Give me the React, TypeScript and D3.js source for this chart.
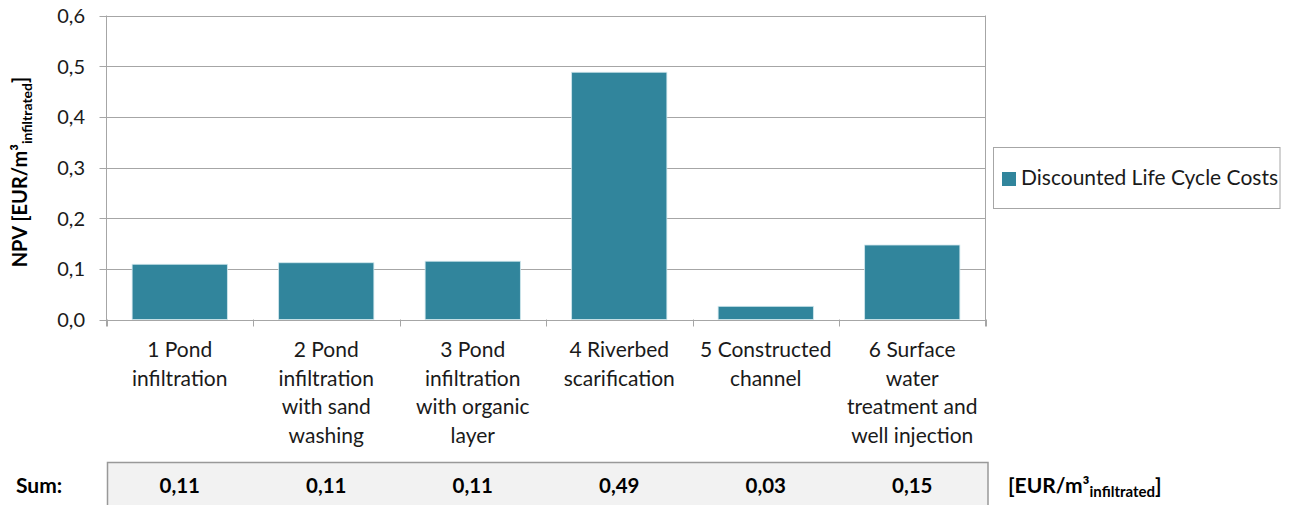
import React from "react";
import * as d3 from "d3";

const categoryLines: string[][] = [
  ["1 Pond", "infiltration"],
  ["2 Pond", "infiltration", "with sand", "washing"],
  ["3 Pond", "infiltration", "with organic", "layer"],
  ["4 Riverbed", "scarification"],
  ["5 Constructed", "channel"],
  ["6 Surface", "water", "treatment and", "well injection"],
];
const costValues: number[] = [0.109, 0.112, 0.115, 0.488, 0.026, 0.147];
const sumLabels: string[] = ["0,11", "0,11", "0,11", "0,49", "0,03", "0,15"];
const yTicks: number[] = [0, 0.1, 0.2, 0.3, 0.4, 0.5, 0.6];
const seriesName = "Discounted Life Cycle Costs";

const W = 1291;
const H = 505;
const plotLeft = 106.5;
const plotRight = 985.5;
const plotTop = 15.5;
const plotBottom = 319.5;
const FONT = "Lato, 'Noto Sans', sans-serif";
const BAR = "#31859c";
const GRID = "#a6a6a6";

export default function App() {
  const x = d3
    .scaleBand<number>()
    .domain(d3.range(categoryLines.length))
    .range([plotLeft, plotRight])
    .paddingInner(0.35)
    .paddingOuter(0.175);
  const step = (plotRight - plotLeft) / categoryLines.length;
  const y = d3.scaleLinear().domain([0, 0.6]).range([plotBottom, plotTop]);
  const fmt = (v: number) => d3.format(".1f")(v).replace(".", ",");
  const center = (i: number) => (x(i) as number) + x.bandwidth() / 2;

  return (
    <svg
      width={W}
      height={H}
      style={{ position: "absolute", left: 0, top: 0, display: "block", background: "#fff" }}
      fontFamily={FONT}
    >
      {/* gridlines + y ticks */}
      {yTicks.map((t) => (
        <g key={t}>
          <line x1={plotLeft - 7} x2={plotRight} y1={Math.round(y(t)) + 0.5} y2={Math.round(y(t)) + 0.5} stroke={GRID} strokeWidth={1} />
          <text x={85} y={y(t) + 7.5} textAnchor="end" fontSize={20} fill="#1a1a1a">
            {fmt(t)}
          </text>
        </g>
      ))}
      {/* right border */}
      <line x1={plotRight} x2={plotRight} y1={plotTop} y2={plotBottom + 7} stroke={GRID} />
      {/* left axis */}
      <line x1={plotLeft} x2={plotLeft} y1={plotTop} y2={plotBottom + 7} stroke={GRID} />
      {/* category ticks */}
      {d3.range(categoryLines.length + 1).map((i) => (
        <line
          key={i}
          x1={Math.round(plotLeft + i * step) + 0.5}
          x2={Math.round(plotLeft + i * step) + 0.5}
          y1={plotBottom}
          y2={plotBottom + 7}
          stroke={GRID}
        />
      ))}
      {/* bars */}
      {costValues.map((v, i) => (
        <rect
          key={i}
          x={x(i)}
          y={y(v)}
          width={x.bandwidth()}
          height={y(0) - y(v)}
          fill={BAR}
          stroke="#cfe6ec"
          strokeWidth={0.8}
        />
      ))}
      {/* x labels */}
      {categoryLines.map((lines, i) => (
        <text key={i} textAnchor="middle" fontSize={21} fill="#1a1a1a">
          {lines.map((l, j) => (
            <tspan key={j} x={center(i)} y={357 + j * 28.5}>
              {l}
            </tspan>
          ))}
        </text>
      ))}
      {/* y axis title */}
      <text
        transform={`translate(27,172) rotate(-90)`}
        textAnchor="middle"
        fontSize={20}
        fontWeight="bold"
        fill="#000"
      >
        NPV [EUR/m³
        <tspan fontSize={14} dy={5}>infiltrated</tspan>
        <tspan dy={-5}>]</tspan>
      </text>
      {/* legend */}
      <rect x={993.5} y={147.5} width={286.5} height={61} fill="#fff" stroke={GRID} />
      <rect x={1002} y={172} width={14} height={14} fill={BAR} />
      <text x={1021} y={185} fontSize={21} fill="#1a1a1a">
        {seriesName}
      </text>
      {/* sum table */}
      <rect x={107.5} y={462.5} width={880.5} height={60} fill="#f2f2f2" stroke="#999" strokeWidth={1.5} />
      <text x={16} y={493} fontSize={21} fontWeight="bold" fill="#000">
        Sum:
      </text>
      {sumLabels.map((s, i) => (
        <text key={i} x={center(i)} y={493} textAnchor="middle" fontSize={20.5} fontWeight="bold" fill="#000">
          {s}
        </text>
      ))}
      <text x={1008} y={493} fontSize={21} fontWeight="bold" fill="#000">
        [EUR/m³
        <tspan fontSize={15} dy={4}>infiltrated</tspan>
        <tspan dy={-4}>]</tspan>
      </text>
    </svg>
  );
}
